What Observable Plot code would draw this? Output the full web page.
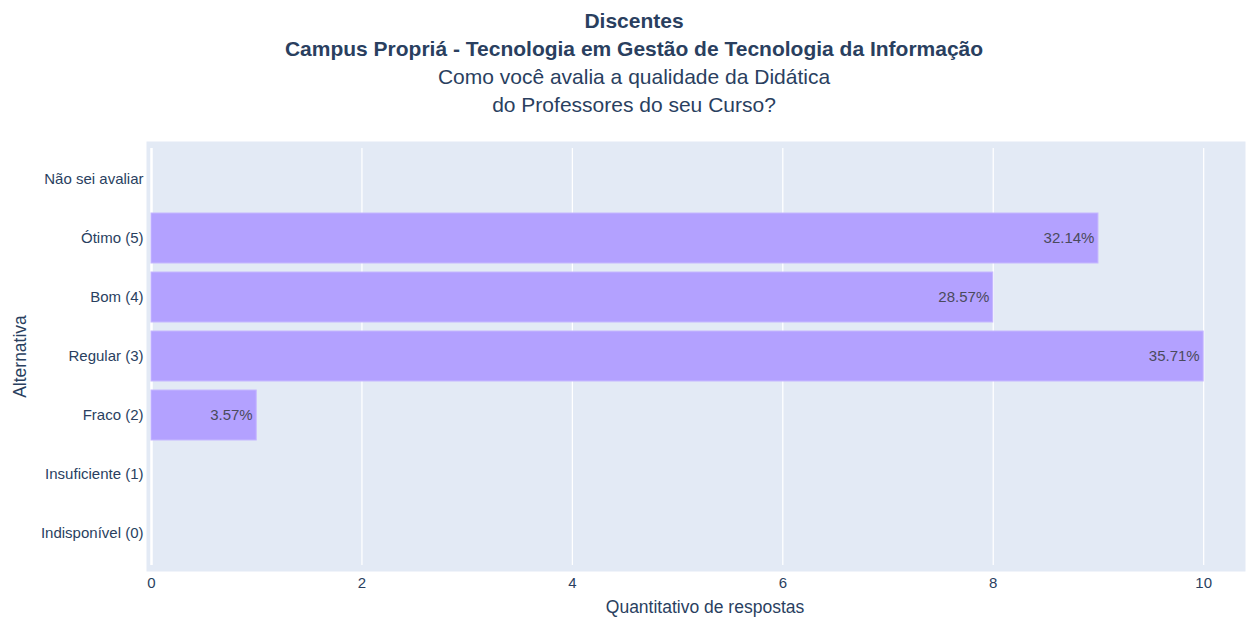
<!DOCTYPE html>
<html><head><meta charset="utf-8">
<script src="https://cdn.jsdelivr.net/npm/d3@7"></script>
<script src="https://cdn.jsdelivr.net/npm/@observablehq/plot@0.6"></script>
<style>
body{margin:0;background:#fff;font-family:"Liberation Sans",Arial,sans-serif;}
#title{width:1247px;box-sizing:border-box;padding-left:21px;padding-top:7px;text-align:center;color:#2a3f5f;font-size:21px;line-height:28px;}
#title .b{font-weight:bold;}
#chart svg{display:block;}
</style></head><body>
<div id="title">
<div class="b">Discentes</div>
<div class="b">Campus Propriá - Tecnologia em Gestão de Tecnologia da Informação</div>
<div>Como você avalia a qualidade da Didática</div>
<div>do Professores do seu Curso?</div>
</div>
<div id="chart"></div>
<script>
const categories = ["Não sei avaliar","Ótimo (5)","Bom (4)","Regular (3)","Fraco (2)","Insuficiente (1)","Indisponível (0)"];
const counts = [0, 9, 8, 10, 1, 0, 0];
const percentLabels = ["", "32.14%", "28.57%", "35.71%", "3.57%", "", ""];
const xTicks = [0, 2, 4, 6, 8, 10];
const xTitle = "Quantitativo de respostas";
const yTitle = "Alternativa";

const data = categories.map((c, i) => ({category: c, count: counts[i], label: percentLabels[i]}));
const shown = data.filter(d => d.count > 0);
const font = "'Liberation Sans', Arial, sans-serif";

const chart = Plot.plot({
  width: 1247, height: 499,
  marginTop: 22, marginBottom: 47, marginLeft: 146, marginRight: 2,
  insetTop: 7, insetBottom: 6, insetLeft: 5, insetRight: 5,
  style: {fontFamily: font, fontSize: "15px", color: "#2a3f5f", background: "transparent"},
  x: {domain: [0, 10.35]},
  y: {domain: categories, paddingInner: 0.15, paddingOuter: 0.075},
  marks: [
    Plot.frame({fill: "#e3eaf5", stroke: null}),
    Plot.ruleX(xTicks.slice(1), {stroke: "white", strokeWidth: 1.25, insetTop: 7, insetBottom: 6}),
    Plot.ruleX([0], {stroke: "white", strokeWidth: 2.5, insetTop: 7, insetBottom: 6}),
    Plot.barX(shown, {y: "category", x: "count", fill: "#b3a1ff", stroke: "#c6b8ff", strokeWidth: 1}),
    Plot.text(shown, {y: "category", x: "count", text: "label", textAnchor: "end", dx: -4, fill: "#4a4a5c", fontSize: 15}),
    Plot.axisX({ticks: xTicks, tickSize: 0, tickPadding: 6, label: null, fill: "#2a3f5f"}),
    Plot.axisY({tickSize: 0, tickPadding: 3, label: null, fill: "#2a3f5f"}),
    Plot.text([xTitle], {frameAnchor: "bottom", dy: 41, dx: 9, fontSize: 17.5, fill: "#2a3f5f"}),
    Plot.text([yTitle], {frameAnchor: "left", textAnchor: "middle", dx: -126, rotate: -90, fontSize: 17.5, fill: "#2a3f5f"})
  ]
});
document.getElementById("chart").appendChild(chart);
</script>
</body></html>
